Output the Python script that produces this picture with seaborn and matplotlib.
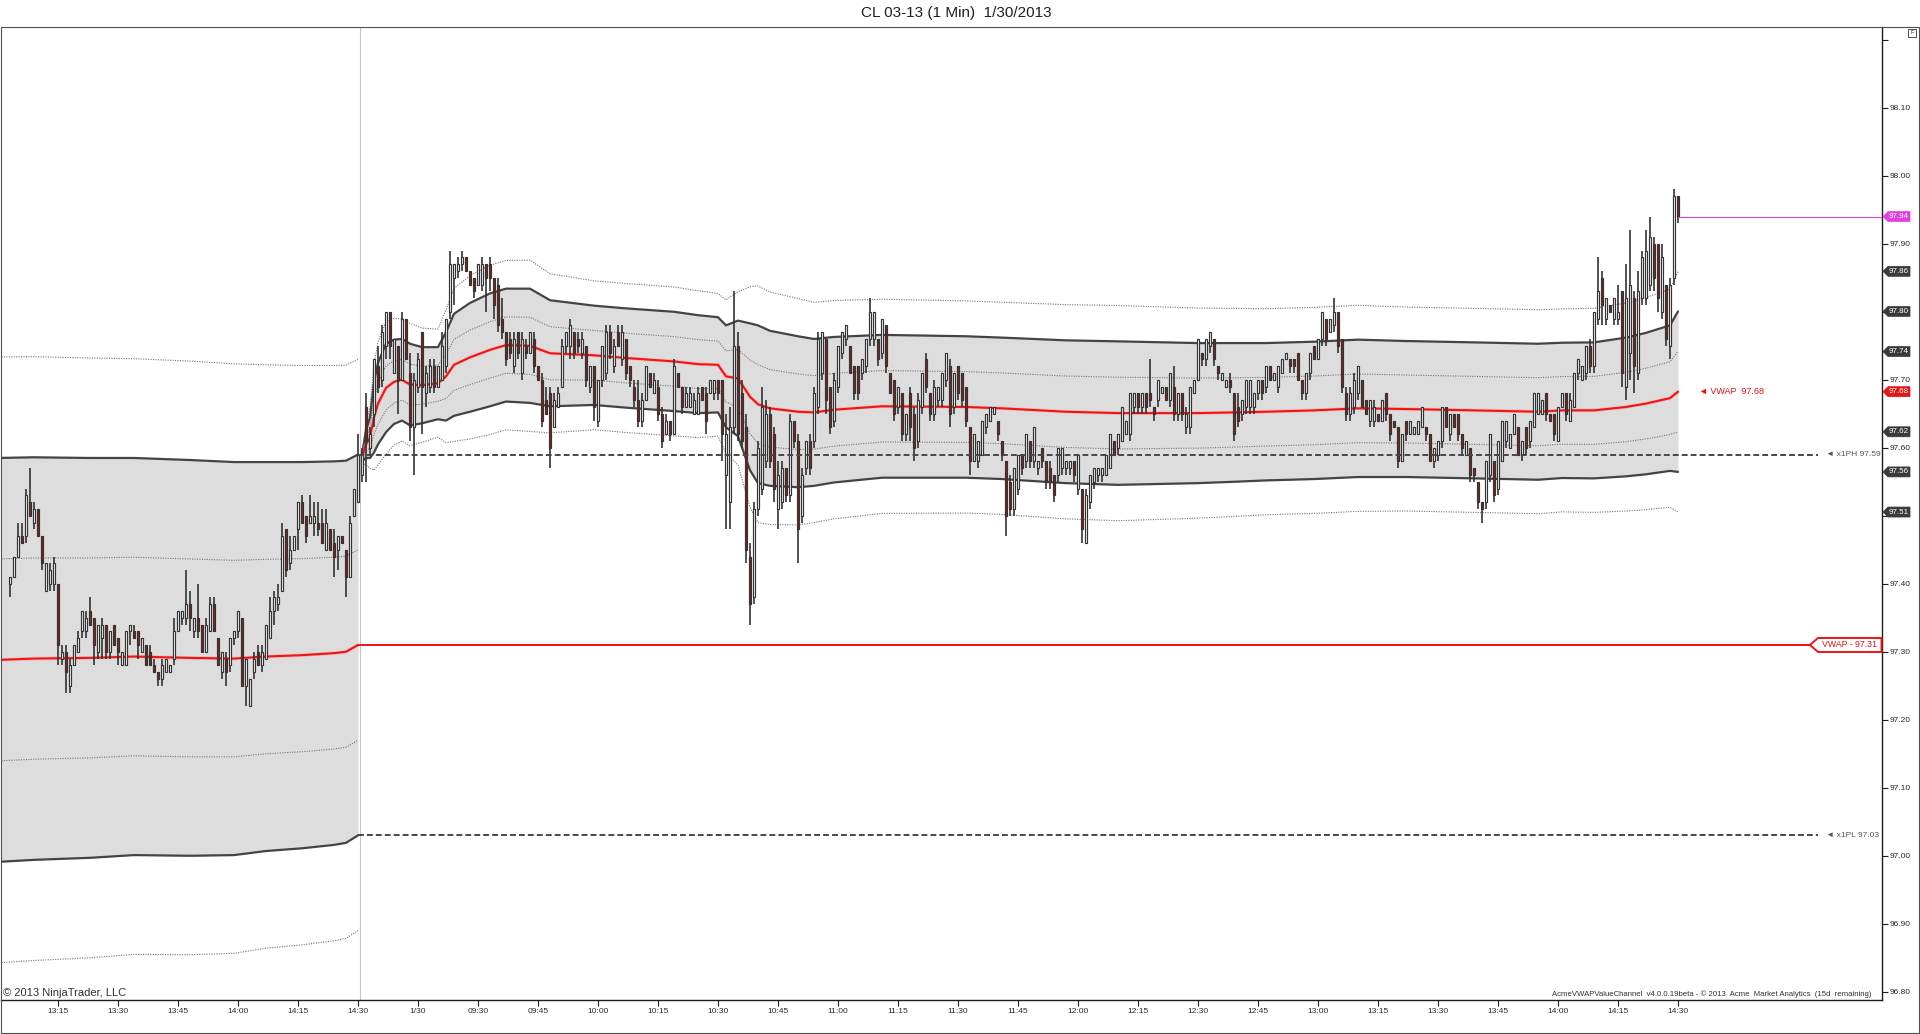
import numpy as np
import pandas as pd
import matplotlib
matplotlib.use("Agg")
import matplotlib.pyplot as plt
import seaborn as sns
from matplotlib.patches import Polygon, Rectangle
from matplotlib.transforms import IdentityTransform

sns.set_theme(style="white")
plt.rcParams["font.family"] = ["Liberation Sans", "DejaVu Sans"]

BASE = 97.00  # every price list below is in cents above 97.00

# --- prior session 1/29, 1-min bars 13:03 .. 14:30 ---
d1_high = [41, 44, 49, 49, 54, 57, 52, 51, 47, 43, 43, 44, 40, 31, 31, 29, 31, 33, 36, 36,
           38, 35, 34, 35, 34, 33, 34, 32, 30, 33, 34, 34, 33, 32, 31, 31, 29, 27, 29, 29,
           28, 35, 36, 36, 42, 39, 35, 40, 34, 35, 38, 38, 32, 30, 30, 32, 33, 36, 35, 29,
           26, 30, 31, 31, 34, 38, 39, 40, 49, 48, 47, 47, 52, 53, 50, 53, 52, 52, 51, 51,
           48, 48, 47, 47, 45, 50, 54, 62]
d1_low = [38, 41, 44, 46, 46, 50, 48, 47, 42, 39, 39, 39, 28, 28, 24, 24, 28, 30, 32, 32,
          34, 28, 29, 29, 29, 29, 31, 28, 28, 28, 31, 32, 29, 30, 28, 28, 27, 25, 25, 27,
          27, 28, 33, 34, 34, 33, 32, 32, 30, 30, 33, 33, 28, 26, 25, 27, 31, 32, 25, 22,
          22, 26, 28, 27, 29, 32, 34, 36, 39, 41, 42, 45, 45, 49, 46, 49, 47, 47, 46, 45,
          45, 41, 42, 46, 38, 41, 50, 52]
d1_open = [40, 41, 44, 47, 47, 52, 49, 51, 47, 39, 40, 40, 40, 29, 30, 25, 28, 30, 33, 33,
           36, 35, 30, 32, 34, 30, 34, 32, 28, 28, 33, 33, 33, 30, 31, 30, 28, 27, 26, 27,
           27, 29, 33, 35, 35, 37, 33, 35, 34, 30, 33, 37, 32, 27, 29, 28, 32, 33, 35, 25,
           22, 27, 30, 28, 29, 32, 36, 37, 39, 48, 43, 45, 48, 52, 50, 49, 49, 49, 49, 45,
           48, 46, 45, 47, 45, 41, 50, 52]
d1_close = [41, 44, 47, 46, 53, 50, 51, 47, 43, 43, 42, 43, 31, 30, 27, 28, 31, 32, 36, 35,
            34, 31, 34, 34, 30, 33, 31, 30, 30, 33, 34, 32, 31, 32, 28, 28, 27, 26, 28, 29,
            28, 33, 36, 36, 37, 35, 35, 33, 30, 34, 37, 33, 28, 30, 27, 32, 33, 36, 25, 29,
            26, 29, 28, 30, 34, 36, 38, 38, 47, 42, 45, 47, 52, 49, 47, 50, 50, 48, 46, 49,
            45, 44, 47, 46, 41, 49, 54, 59]

# --- session 1/30, 1-min bars 09:01 .. 14:30 ---
d2_high = [60, 68, 63, 73, 75, 78, 80, 80, 76, 75, 80, 79, 74, 71, 74, 77, 72, 73, 73, 72,
           77, 79, 89, 87, 88, 89, 88, 86, 85, 87, 88, 87, 88, 85, 85, 82, 77, 77, 77, 77,
           77, 76, 77, 77, 72, 71, 69, 69, 68, 69, 76, 77, 79, 77, 77, 77, 75, 72, 72, 70,
           75, 78, 78, 76, 78, 78, 76, 72, 70, 70, 68, 72, 71, 71, 70, 66, 65, 64, 73, 71,
           69, 69, 69, 68, 69, 69, 69, 70, 70, 70, 70, 65, 66, 83, 77, 70, 65, 46, 52, 61,
           69, 67, 66, 63, 58, 58, 57, 65, 64, 62, 57, 61, 62, 69, 77, 77, 76, 69, 71, 75,
           77, 78, 75, 72, 72, 73, 76, 82, 80, 76, 79, 78, 71, 70, 69, 68, 65, 69, 66, 68,
           71, 74, 68, 70, 69, 71, 74, 73, 71, 72, 71, 69, 63, 62, 61, 64, 65, 66, 66, 64,
           61, 58, 56, 57, 59, 59, 62, 61, 63, 58, 60, 58, 58, 56, 60, 60, 58, 58, 58, 59,
           54, 54, 56, 57, 57, 57, 59, 62, 61, 62, 66, 64, 68, 68, 68, 68, 68, 73, 66, 70,
           69, 69, 71, 72, 68, 68, 66, 69, 70, 76, 74, 76, 77, 76, 72, 71, 70, 71, 68, 68,
           67, 70, 70, 68, 70, 70, 72, 72, 71, 72, 73, 74, 73, 73, 74, 70, 71, 74, 75, 76,
           80, 79, 79, 82, 80, 76, 69, 69, 71, 72, 70, 67, 67, 67, 65, 67, 68, 65, 64, 63,
           62, 64, 64, 63, 64, 66, 63, 62, 60, 61, 66, 66, 65, 65, 65, 62, 61, 60, 57, 55,
           52, 58, 62, 58, 61, 64, 64, 62, 65, 63, 61, 63, 64, 68, 68, 67, 68, 65, 65, 66,
           68, 68, 68, 71, 73, 72, 75, 76, 80, 88, 86, 82, 81, 82, 84, 83, 87, 92, 83, 86,
           89, 92, 94, 91, 90, 90, 84, 85, 98, 97]
d2_low = [55, 55, 59, 63, 68, 69, 73, 73, 71, 65, 70, 73, 61, 56, 68, 62, 66, 68, 68, 69,
          70, 71, 79, 81, 85, 86, 86, 84, 82, 84, 83, 80, 83, 79, 77, 76, 72, 73, 71, 73,
          70, 73, 74, 71, 70, 63, 65, 57, 63, 66, 69, 74, 73, 73, 74, 73, 69, 68, 64, 63,
          69, 70, 73, 71, 75, 72, 70, 69, 66, 63, 63, 67, 69, 68, 64, 60, 62, 61, 62, 69,
          65, 66, 66, 65, 65, 67, 62, 68, 67, 67, 58, 48, 48, 62, 61, 60, 43, 34, 37, 50,
          53, 57, 57, 52, 48, 51, 52, 52, 60, 43, 49, 56, 56, 60, 65, 70, 65, 62, 63, 68,
          73, 75, 71, 67, 67, 70, 71, 75, 75, 72, 73, 71, 68, 64, 65, 61, 61, 61, 58, 60,
          65, 68, 64, 64, 66, 66, 69, 63, 65, 67, 66, 63, 56, 58, 57, 59, 62, 64, 65, 61,
          58, 47, 50, 50, 53, 56, 57, 57, 57, 56, 57, 54, 54, 52, 55, 56, 56, 56, 55, 53,
          46, 46, 51, 54, 55, 55, 56, 57, 59, 59, 61, 62, 61, 65, 65, 65, 65, 66, 64, 66,
          68, 67, 66, 64, 64, 64, 62, 62, 68, 70, 72, 72, 74, 72, 70, 70, 69, 68, 61, 63,
          64, 65, 65, 65, 67, 67, 68, 70, 70, 68, 71, 73, 71, 71, 70, 67, 67, 70, 73, 73,
          75, 75, 77, 77, 74, 68, 64, 64, 65, 67, 66, 65, 63, 63, 64, 64, 64, 61, 63, 57,
          58, 61, 62, 62, 62, 63, 61, 58, 57, 58, 60, 63, 61, 63, 61, 59, 59, 55, 55, 51,
          49, 51, 55, 52, 53, 58, 60, 60, 62, 59, 58, 59, 60, 63, 65, 65, 64, 64, 61, 61,
          66, 64, 64, 66, 70, 70, 70, 71, 71, 78, 78, 78, 80, 78, 78, 69, 67, 70, 68, 70,
          81, 81, 83, 83, 80, 79, 75, 73, 84, 93]
d2_open = [56, 66, 60, 65, 72, 70, 75, 80, 71, 75, 70, 79, 71, 63, 69, 77, 68, 69, 72, 69,
           70, 72, 80, 85, 86, 87, 88, 86, 85, 84, 84, 87, 87, 85, 84, 79, 77, 76, 72, 77,
           71, 75, 74, 76, 72, 70, 67, 68, 63, 66, 69, 75, 75, 77, 76, 74, 75, 69, 72, 64,
           70, 71, 77, 72, 77, 73, 76, 72, 69, 67, 64, 67, 71, 68, 69, 65, 62, 64, 62, 71,
           69, 66, 66, 65, 65, 69, 68, 68, 68, 70, 70, 56, 52, 63, 75, 68, 63, 44, 38, 51,
           54, 58, 65, 62, 51, 52, 57, 53, 64, 61, 50, 57, 61, 61, 66, 71, 76, 69, 64, 69,
           74, 76, 75, 72, 72, 71, 72, 76, 76, 76, 74, 78, 71, 70, 66, 68, 62, 68, 65, 61,
           66, 73, 68, 65, 67, 67, 70, 72, 66, 72, 71, 69, 63, 58, 58, 59, 63, 64, 65, 64,
           61, 58, 55, 51, 54, 59, 58, 61, 58, 57, 60, 58, 57, 56, 56, 57, 57, 57, 58, 54,
           54, 46, 52, 55, 56, 56, 56, 57, 61, 60, 61, 62, 62, 66, 68, 66, 68, 68, 66, 67,
           68, 69, 67, 69, 65, 68, 63, 63, 68, 70, 74, 73, 75, 76, 72, 70, 69, 70, 68, 66,
           65, 66, 66, 66, 68, 70, 69, 72, 70, 69, 71, 73, 73, 73, 74, 70, 68, 71, 75, 73,
           76, 79, 77, 78, 80, 76, 68, 65, 66, 68, 70, 67, 64, 64, 65, 64, 68, 65, 64, 63,
           58, 64, 62, 62, 62, 63, 63, 62, 58, 59, 61, 66, 62, 65, 65, 62, 59, 60, 57, 55,
           52, 52, 56, 58, 54, 58, 61, 60, 62, 63, 59, 63, 61, 63, 65, 65, 68, 65, 65, 61,
           66, 68, 64, 66, 71, 70, 71, 75, 72, 79, 85, 79, 81, 79, 79, 83, 69, 74, 82, 71,
           82, 82, 84, 90, 90, 80, 84, 75, 85, 97]
d2_close = [59, 61, 62, 73, 69, 77, 80, 75, 76, 70, 79, 73, 63, 70, 73, 69, 71, 72, 69, 72,
            75, 79, 87, 87, 87, 88, 86, 84, 83, 87, 87, 85, 85, 81, 78, 77, 73, 74, 76, 74,
            76, 74, 77, 72, 70, 64, 65, 60, 67, 68, 75, 77, 78, 74, 75, 76, 70, 72, 66, 70,
            75, 77, 74, 75, 75, 77, 71, 70, 67, 64, 67, 72, 69, 70, 65, 61, 64, 62, 72, 69,
            66, 68, 68, 67, 68, 67, 64, 70, 70, 68, 62, 62, 63, 75, 62, 61, 45, 37, 51, 60,
            66, 65, 58, 54, 56, 57, 53, 64, 61, 48, 56, 61, 57, 68, 76, 77, 67, 63, 70, 75,
            77, 78, 71, 68, 68, 73, 76, 80, 80, 73, 79, 72, 68, 65, 69, 62, 65, 63, 60, 67,
            71, 69, 65, 69, 69, 71, 74, 65, 71, 68, 67, 64, 58, 62, 61, 64, 65, 66, 66, 62,
            59, 50, 51, 57, 59, 57, 62, 58, 63, 58, 58, 55, 55, 53, 60, 60, 58, 58, 56, 59,
            48, 53, 56, 57, 57, 57, 59, 62, 59, 62, 66, 64, 68, 68, 66, 68, 66, 67, 65, 70,
            69, 67, 71, 65, 68, 65, 65, 69, 70, 76, 73, 76, 77, 73, 71, 71, 70, 69, 62, 64,
            67, 70, 70, 68, 70, 68, 72, 70, 71, 72, 73, 74, 72, 72, 70, 68, 71, 74, 73, 76,
            80, 76, 79, 80, 75, 69, 65, 68, 70, 72, 66, 65, 67, 66, 64, 67, 65, 62, 63, 58,
            62, 62, 64, 63, 64, 66, 62, 58, 60, 61, 66, 63, 65, 63, 62, 60, 61, 56, 56, 52,
            51, 58, 62, 53, 61, 64, 64, 62, 65, 59, 61, 60, 64, 68, 68, 67, 65, 64, 62, 66,
            68, 65, 67, 71, 73, 72, 75, 72, 80, 83, 81, 82, 80, 82, 80, 71, 82, 84, 72, 83,
            88, 89, 91, 85, 82, 88, 76, 84, 97, 94]

# --- VWAP value channel, read at sample bars (bar index, cents, std dev in cents) ---
d1_band_bar = [-3, 6, 20, 31, 45, 56, 64, 73, 81, 84, 87]
d1_vwap = [28.8, 29.0, 29.1, 29.3, 29.1, 29.0, 29.3, 29.5, 29.8, 30.0, 31.0]
d1_sigma = [29.7, 29.6, 29.4, 29.2, 29.1, 28.9, 28.6, 28.4, 28.2, 28.1, 28.0]

d2_band_bar = [88, 89, 90, 91, 92, 94, 96, 98, 100, 103, 107, 109, 111, 115, 120, 124, 130,
               135, 146, 154, 166, 172, 177, 179, 182, 185, 187, 190, 197, 201, 206, 218,
               239, 248, 264, 277, 297, 306, 314, 326, 337, 349, 366, 382, 388, 396, 404,
               409, 415, 417]
d2_vwap = [58.5, 60.5, 61.5, 64.5, 66.5, 68.8, 69.7, 70.0, 69.3, 69.2, 69.5, 70.5, 72.2,
           73.3, 74.4, 75.1, 75.0, 73.9, 73.6, 73.2, 72.7, 72.3, 72.2, 70.5, 70.2, 67.5,
           66.4, 65.8, 65.3, 65.2, 65.6, 66.1, 66.0, 65.8, 65.3, 65.1, 65.1, 65.2, 65.3,
           65.5, 65.8, 65.7, 65.5, 65.3, 65.5, 65.5, 66.0, 66.5, 67.3, 68.25]
d2_sigma = [0.5, 2.0, 3.0, 5.2, 6.0, 6.5, 6.2, 6.0, 6.0, 5.6, 5.3, 6.5, 7.5, 8.0, 8.3, 8.3,
            8.4, 7.8, 7.3, 7.3, 7.3, 7.2, 7.0, 7.5, 8.5, 10.8, 11.6, 11.4, 11.1, 10.8, 10.7,
            10.5, 10.4, 10.4, 10.5, 10.55, 10.3, 10.2, 10.1, 10.1, 10.1, 10.0, 10.0, 10.0,
            9.95, 10.0, 10.2, 10.4, 10.7, 11.8]

price_ticks = [96.80, 96.90, 97.00, 97.10, 97.20, 97.30, 97.40, 97.50, 97.60, 97.70,
               97.80, 97.90, 98.00, 98.10, 98.20]
unlabeled_ticks = [97.50, 97.80, 98.20]

# --- style ---
WICK = "#333333"
DOWN = "#8e1c1c"
BANDLINE = "#444444"
DOTS = "#747474"
FILL = "#dddddd"
RED = "#f01414"
MAGENTA = "#e040e0"


def px(c):
    return BASE + np.asarray(c, dtype=float) / 100.0


def channel(bar, vwap, sigma):
    df = pd.DataFrame({"bar": bar, "vwap": px(vwap)})
    s = np.asarray(sigma, dtype=float) / 100.0
    for k in (0.5, 1.0, 1.5):
        df[f"up{k}"] = df["vwap"] + k * s
        df[f"lo{k}"] = df["vwap"] - k * s
    return df


n1, n2 = len(d1_close), len(d2_close)
x1 = np.arange(n1)
x2 = np.arange(n1, n1 + n2)
times = (list(pd.date_range("2013-01-29 13:03", periods=n1, freq="min")) +
         list(pd.date_range("2013-01-30 09:01", periods=n2, freq="min")))

fig = plt.figure(figsize=(19.2, 10.34), dpi=100, facecolor="white")
ax = fig.add_axes([1 / 1920, 34 / 1034, 1881 / 1920, 973 / 1034])
ax.set_facecolor("white")

ch1 = channel(d1_band_bar, d1_vwap, d1_sigma)
ch2 = channel(d2_band_bar, d2_vwap, d2_sigma)
for ch in (ch1, ch2):
    ax.fill_between(ch["bar"], ch["lo1.0"], ch["up1.0"], color=FILL, lw=0, zorder=1)
    for col in ("up0.5", "lo0.5", "up1.5", "lo1.5"):
        sns.lineplot(data=ch, x="bar", y=col, ax=ax, color=DOTS, lw=0.8,
                     linestyle=(0, (1, 1.2)), sort=False, estimator=None, zorder=2)
    for col in ("up1.0", "lo1.0"):
        sns.lineplot(data=ch, x="bar", y=col, ax=ax, color=BANDLINE, lw=1.6,
                     sort=False, estimator=None, zorder=3)
    sns.lineplot(data=ch, x="bar", y="vwap", ax=ax, color="#ff9a9a", lw=2.6, alpha=0.5,
                 sort=False, estimator=None, zorder=3.4)
    sns.lineplot(data=ch, x="bar", y="vwap", ax=ax, color=RED, lw=1.5,
                 sort=False, estimator=None, zorder=3.5)

# session break
ax.axvline((x1[-1] + x2[0]) / 2, color="#c4c4c4", lw=0.8, zorder=1.5)


def candles(x, o, h, l, c):
    o, h, l, c = px(o), px(h), px(l), px(c)
    lo = np.minimum.reduce([l, o, c])
    hi = np.maximum.reduce([h, o, c])
    ax.vlines(x, lo, hi, color=WICK, lw=1.2, zorder=4)
    body = np.maximum(np.abs(c - o), 0.003)
    bottom = np.minimum(o, c)
    up = c >= o
    ax.bar(x[up], body[up], bottom=bottom[up], width=0.6, color="white",
           edgecolor=WICK, linewidth=0.85, zorder=5)
    ax.bar(x[~up], body[~up], bottom=bottom[~up], width=0.6, color=DOWN,
           edgecolor=WICK, linewidth=0.85, zorder=5)


candles(x1, d1_open, d1_high, d1_low, d1_close)
candles(x2, d2_open, d2_high, d2_low, d2_close)

# prior session reference levels
prior_vwap = px(d1_vwap)[-1]
prior_hi = prior_vwap + d1_sigma[-1] / 100.0
prior_lo = prior_vwap - d1_sigma[-1] / 100.0
ax.plot([x1[-1], 450], [prior_vwap, prior_vwap], color=RED, lw=1.4, zorder=3.5)
for lvl, name in ((prior_hi, "x1PH"), (prior_lo, "x1PL")):
    ax.plot([x1[-1], 452], [lvl, lvl], color="#474747", lw=1.4,
            linestyle=(0, (3, 1.6)), zorder=6)
    ax.text(454, lvl, f"\u25c4 {name} {lvl:.2f}", fontsize=6, color="#555555",
            va="center", ha="left", zorder=7)

# current values
last_close = px(d2_close)[-1]
v_last = ch2["vwap"].iloc[-1]
ax.plot([x2[-1], 470], [last_close, last_close], color=MAGENTA, lw=0.8, zorder=6)
ax.text(x2[-1] + 5.2, v_last, f"\u25c4 VWAP  {v_last:.2f}", fontsize=6.5, color="#e01010",
        va="center", ha="left", zorder=7)

XMIN, XMAX = -2.25, 468.0
YMIN, YMAX = 96.7879, 98.2188
ax.set_xlim(XMIN, XMAX)
ax.set_ylim(YMIN, YMAX)
ax.set_xlabel("")
ax.set_ylabel("")

# axes styling
for side in ("top", "left"):
    ax.spines[side].set_visible(False)
for side in ("right", "bottom"):
    ax.spines[side].set_color("#1e1e1e")
    ax.spines[side].set_linewidth(1.0)
ax.yaxis.tick_right()
ax.set_yticks(price_ticks)
ax.set_yticklabels(["" if t in unlabeled_ticks else f"{t:.2f}" for t in price_ticks])

tick_pos, tick_lab = [], []
seen_day2 = False
for i, t in enumerate(times):
    if t.minute % 15 == 0:
        tick_pos.append(i)
        if t.day == 30 and not seen_day2:
            tick_lab.append(f"{t.month}/{t.day}")
            seen_day2 = True
        else:
            tick_lab.append(t.strftime("%H:%M"))
ax.set_xticks(tick_pos)
ax.set_xticklabels(tick_lab)
ax.tick_params(axis="both", which="major", direction="out", length=4, width=0.8,
               color="#1e1e1e", labelsize=6, labelcolor="#2a2a2a", pad=2)
ax.tick_params(axis="y", right=True, left=False, pad=1.5)
ax.tick_params(axis="x", bottom=True, top=False)
ax.grid(False)

# price tags on the axis (display coordinates)
ID = IdentityTransform()
right_px = ax.get_position().x1 * fig.bbox.width


def tag(price, text, face, tcolor):
    _, yp = ax.transData.transform((0, price))
    x0 = right_px + 1
    pts = [(x0, yp), (x0 + 5, yp + 5), (x0 + 27, yp + 5), (x0 + 27, yp - 5), (x0 + 5, yp - 5)]
    fig.add_artist(Polygon(pts, closed=True, transform=ID, facecolor=face,
                           edgecolor=face, lw=0.5, zorder=10))
    fig.text(x0 + 16, yp, text, transform=ID, ha="center", va="center",
             fontsize=5.8, color=tcolor, zorder=11)


last_row = ch2.iloc[-1]
for col in ("up1.5", "up1.0", "up0.5", "lo0.5", "lo1.0", "lo1.5"):
    tag(last_row[col], f"{last_row[col]:.2f}", "#3a3a3a", "white")
tag(v_last, f"{v_last:.2f}", "#e01818", "white")
tag(last_close, f"{last_close:.2f}", MAGENTA, "white")

# prior VWAP box
_, yv = ax.transData.transform((0, prior_vwap))
xa = ax.transData.transform((450, 0))[0]
box = [(xa, yv), (xa + 8, yv + 7), (right_px - 0.5, yv + 7), (right_px - 0.5, yv - 7), (xa + 8, yv - 7)]
fig.add_artist(Polygon(box, closed=True, transform=ID, facecolor="white",
                       edgecolor=RED, lw=1.4, zorder=10))
fig.text((xa + 8 + right_px) / 2, yv, f"VWAP - {prior_vwap:.2f}", transform=ID,
         ha="center", va="center", fontsize=6.3, color="#e01010", zorder=11)

# texts
fig.text(0.498, 1 - 12.5 / 1034, "CL 03-13 (1 Min)  1/30/2013", ha="center", va="center",
         fontsize=11, color="#202020")
ax.text(2 / 1881, 7 / 973, "\u00a9 2013 NinjaTrader, LLC", transform=ax.transAxes,
        fontsize=8, color="#303030", va="center", ha="left")
ax.text(1870 / 1881, 6 / 973,
        "AcmeVWAPValueChannel  v4.0.0.19beta - \u00a9 2013  Acme  Market Analytics  (15d  remaining)",
        transform=ax.transAxes, fontsize=5.6, color="#303030", va="center", ha="right")

# chart frame and corner box
fig.add_artist(Rectangle((0.5, 1), 1918, 1006, transform=ID, fill=False,
                         edgecolor="#505050", lw=0.8))
fig.add_artist(Rectangle((1908, 997), 8, 8, transform=ID, fill=False,
                         edgecolor="#303030", lw=0.6))
fig.text(1912, 1001, "F", transform=ID, ha="center", va="center", fontsize=4.5, color="#303030")

fig.savefig("out.png", dpi=100, facecolor="white")
